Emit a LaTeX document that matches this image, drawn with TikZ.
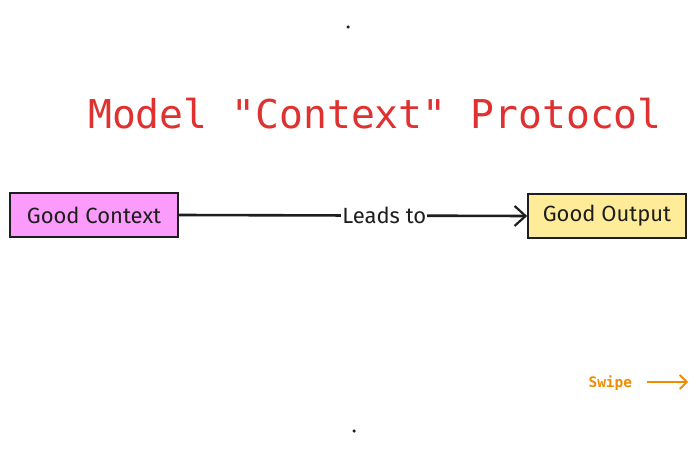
\documentclass[tikz,border=0pt]{standalone}
\usepackage{fontspec}
\setmainfont{Fira Sans}
\newfontfamily\titlefont{DejaVu Sans Mono}
\newfontfamily\hand{Fira Sans}
\usetikzlibrary{arrows.meta}
\definecolor{exred}{HTML}{E03131}
\definecolor{expink}{HTML}{FB9BFB}
\definecolor{exyellow}{HTML}{FFEC99}
\definecolor{exstroke}{HTML}{1E1E1E}
\definecolor{exorange}{HTML}{F08C00}
\tikzset{
  boxstyle/.style={draw=exstroke, line width=1.6pt, minimum height=44pt, inner sep=0pt, font=\hand\fontsize{22}{24}\selectfont, text=exstroke},
  conn/.style={draw=exstroke, line width=2.6pt, -{Straight Barb[length=11pt,width=20pt,line width=2.2pt]}},
  dotstyle/.style={circle, fill=exstroke, inner sep=0pt, minimum size=3.5pt},
}
\begin{document}
\begin{tikzpicture}[x=1pt,y=-1pt]
\useasboundingbox[fill=white] (0,0) rectangle (696,449);
\node[dotstyle] (d1) at (348,27) {};
\node[dotstyle] (d2) at (354,431) {};
\node[anchor=base, text=exred, font=\titlefont\fontsize{39.7}{44}\selectfont] (title) at (375,129) {Model "Context" Protocol};
\node[boxstyle, fill=expink, minimum width=168pt] (ctx) at (94,215) {Good Context};
\node[boxstyle, fill=exyellow, minimum width=158pt] (out) at (607,216) {Good Output};
\draw[conn] (ctx.east) -- node[fill=white, inner sep=1pt, font=\hand\fontsize{22}{24}\selectfont, text=exstroke, pos=0.59] (lbl) {Leads to} (out.west);
\node[anchor=base west, text=exorange, font=\titlefont\bfseries\fontsize{14.5}{16}\selectfont] (swipe) at (585,387) {Swipe};
\coordinate (s1) at (647,382);
\coordinate (s2) at (688,382);
\draw[draw=exorange, line width=2pt, -{Straight Barb[length=7pt,width=14pt,line width=1.8pt]}] (s1) -- (s2);
\end{tikzpicture}
\end{document}
